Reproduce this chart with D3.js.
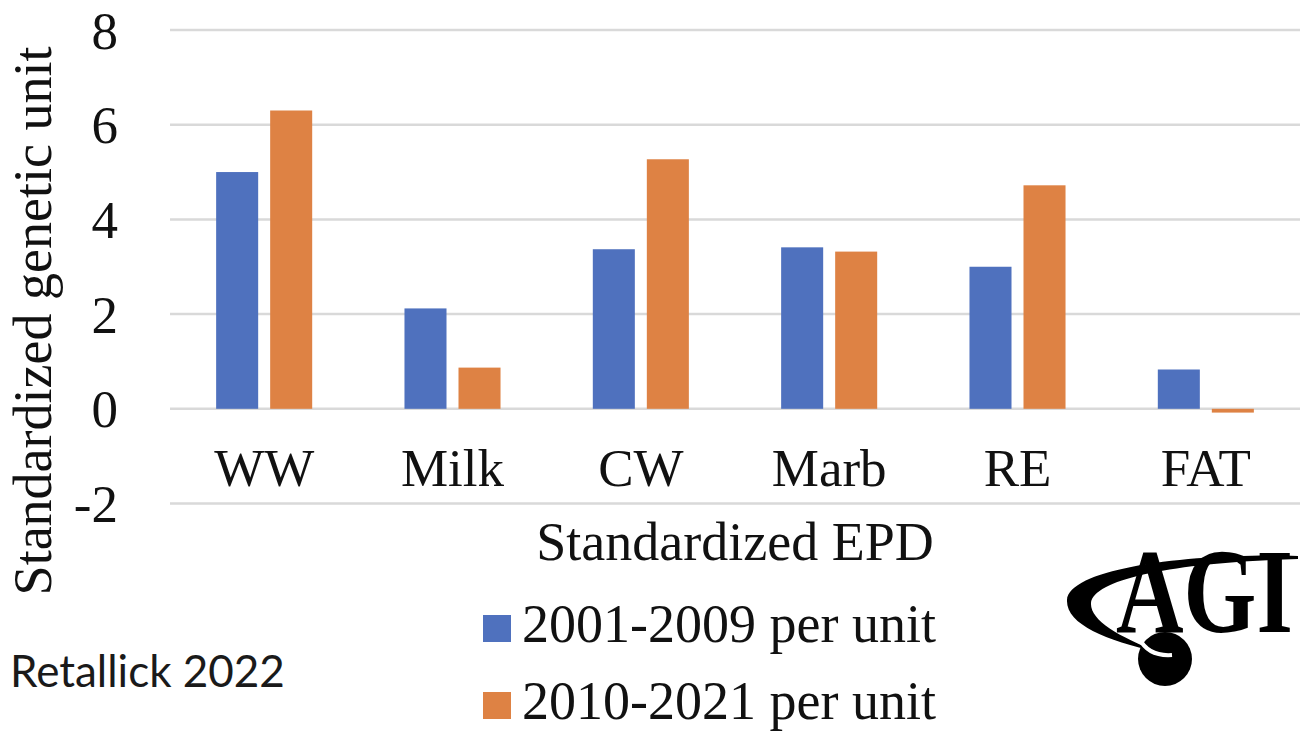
<!DOCTYPE html>
<html>
<head>
<meta charset="utf-8">
<script src="https://cdn.jsdelivr.net/npm/d3@7"></script>
<style>
  html, body { margin: 0; padding: 0; background: #fff; }
  svg { display: block; }
  .serif { font-family: 'Liberation Serif', 'Times New Roman', serif; }
</style>
</head>
<body>
<svg id="chart" width="1306" height="735"></svg>
<script>
// Standardized EPD traits and their genetic change per unit, by period
const categories = ["WW", "Milk", "CW", "Marb", "RE", "FAT"];
const seriesNames = ["2001-2009 per unit", "2010-2021 per unit"];
const early = [5.0, 2.12, 3.37, 3.41, 3.0, 0.83];
const late = [6.3, 0.87, 5.27, 3.32, 4.72, -0.08];
const yTicks = [-2, 0, 2, 4, 6, 8];
const colors = ["#4F71BE", "#DE8244"];

const svg = d3.select("#chart");

const x0 = d3.scaleBand().domain(categories).range([170, 1300])
  .paddingInner(0.49).paddingOuter(0.245);
const x1 = d3.scaleBand().domain(seriesNames).range([0, x0.bandwidth()])
  .paddingInner(0.222);
const y = d3.scaleLinear().domain([-2, 8]).range([503.5, 30]);

const rows = categories.map((c, i) => ({ cat: c, vals: [early[i], late[i]] }));

// Horizontal gridlines
svg.append("g")
  .selectAll("line").data(yTicks).join("line")
  .attr("x1", 170).attr("x2", 1300)
  .attr("y1", d => y(d)).attr("y2", d => y(d))
  .attr("stroke", "#d9d9d9").attr("stroke-width", 2.5);

// Y tick labels (plain hyphen for negatives)
const yAxis = d3.axisLeft(y).tickValues(yTicks).tickSize(0).tickPadding(0)
  .tickFormat(d => String(d));
const gy = svg.append("g").attr("transform", "translate(118,0)").call(yAxis);
gy.attr("font-family", null).attr("font-size", null);
gy.select(".domain").remove();
gy.selectAll("text")
  .attr("class", "serif").attr("font-size", 53).attr("fill", "#111")
  .attr("dy", "0.34em");

// Bars
const groups = svg.append("g").selectAll("g").data(rows).join("g")
  .attr("transform", d => `translate(${x0(d.cat)},0)`);
groups.selectAll("rect")
  .data(d => d.vals.map((v, k) => ({ key: seriesNames[k], v, k })))
  .join("rect")
  .attr("x", d => x1(d.key))
  .attr("width", x1.bandwidth())
  .attr("y", d => y(Math.max(0, d.v)))
  .attr("height", d => Math.abs(y(d.v) - y(0)))
  .attr("fill", d => colors[d.k]);

// Category labels
const xAxis = d3.axisBottom(x0).tickSize(0).tickPadding(0);
const gx = svg.append("g").attr("transform", "translate(0,486)").call(xAxis);
gx.attr("font-family", null).attr("font-size", null);
gx.select(".domain").remove();
gx.selectAll("text")
  .attr("class", "serif").attr("font-size", 53).attr("fill", "#111")
  .attr("dy", 0);

// Axis titles
svg.append("text")
  .attr("class", "serif")
  .attr("x", 735).attr("y", 560).attr("text-anchor", "middle")
  .attr("font-size", 54).attr("fill", "#111")
  .text("Standardized EPD");

svg.append("text")
  .attr("class", "serif")
  .attr("transform", "translate(51,321) rotate(-90)")
  .attr("text-anchor", "middle")
  .attr("font-size", 54).attr("fill", "#111")
  .text("Standardized genetic unit");

// Legend
const legend = svg.append("g").selectAll("g").data(seriesNames).join("g")
  .attr("transform", (d, i) => `translate(483,${615 + i * 77})`);
legend.append("rect")
  .attr("width", 28).attr("height", 27)
  .attr("fill", (d, i) => colors[i]);
legend.append("text")
  .attr("class", "serif")
  .attr("x", 39).attr("y", 27)
  .attr("font-size", 54).attr("fill", "#111")
  .text(d => d);

// Source note
svg.append("text")
  .attr("x", 10).attr("y", 687)
  .attr("font-family", "Lato, 'Open Sans', sans-serif").attr("font-size", 44)
  .attr("fill", "#1a1a1a")
  .text("Retallick 2022");

// AGI logo: swoosh, globe and condensed bold lettering
const logo = svg.append("g");
logo.append("path")
  .attr("d", "M1298,556 C1190,553 1070,568 1067,600 C1066,624 1105,640 1158,652 " +
             "C1118,636 1090,620 1091,603 C1094,578 1180,562 1298,559 Z")
  .attr("fill", "#000");
logo.append("circle").attr("cx", 1165).attr("cy", 659).attr("r", 27).attr("fill", "#000");
logo.append("path")
  .attr("d", "M1139,638 C1146,652 1158,656 1172,655")
  .attr("fill", "none").attr("stroke", "#fff").attr("stroke-width", 4);
logo.append("text")
  .attr("class", "serif")
  .attr("transform", "translate(1116,632) scale(0.78,1)")
  .attr("font-weight", "bold").attr("font-size", 120)
  .attr("fill", "#000")
  .text("AGI");
</script>
</body>
</html>
